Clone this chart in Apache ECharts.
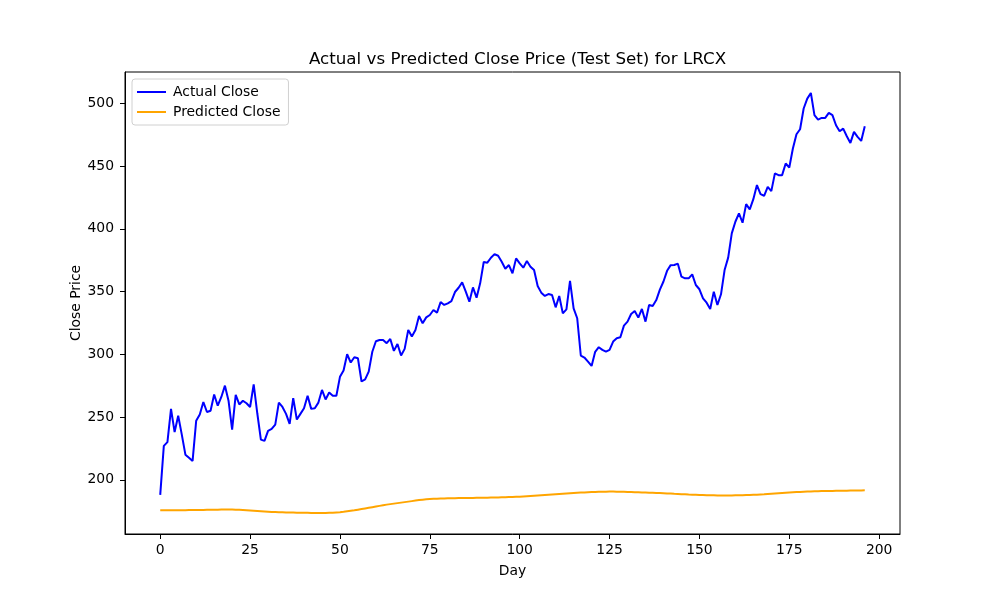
<!DOCTYPE html>
<html>
<head>
<meta charset="utf-8">
<script src="https://cdn.jsdelivr.net/npm/echarts@6/dist/echarts.min.js"></script>
<style>html,body{margin:0;padding:0;background:#fff}#c{width:1000px;height:600px}</style>
</head>
<body>
<div id="c"></div>
<script>
const actualClose = [188,227,230,256.5,238,251,236,220,217.5,215,
247,252,262,254,255,268,259,266,275,263,
240,267.6,260,263,261,258,276,253,232,231,
239,240.5,244,261.5,258,252.5,244.5,265,248,252.5,
257,267,256.5,257,261.5,271.6,264,269.5,267,267,
282,287,300,293.4,297.6,296.8,278.3,280,286.2,302,
310.4,311.4,311.4,308.8,312.2,302.7,308.2,299,304.3,319.4,
314.1,319.4,330.5,324.7,329.4,331.3,335.3,333.2,341.6,339.3,
340.6,342.4,349.6,353,357.3,349.9,341.9,353.3,345.1,356.5,
373.5,373,376.9,379.8,378.5,373.7,368.2,371.1,364.5,376.4,
372.4,369,374.3,369.8,367.1,354.4,349.1,346.5,348,347.2,
337.4,346.4,332.6,335.8,358.4,336.6,328.7,299,297.4,294.2,
290.7,302,305.6,303.5,302.1,303.5,310.1,312.8,313.5,322.8,
326,332.1,334.5,329.2,336.1,326,339.3,338.5,343.2,351.5,
358,366.5,371,371.1,372.2,361.8,360.5,360.5,363.7,355.2,
351.8,344.6,341.1,336.1,349.9,339.3,347.8,367.1,377,396.3,
405.6,412.2,404.8,419.6,415.4,423.6,434.8,427.6,426.3,433.4,
430,444.1,442.7,442.7,452,448.8,463.9,475.3,479.3,495.8,
503.7,508.2,490.5,487,488.3,488.3,492.3,490.5,482.5,477.7,
479.8,473.7,468.4,477.2,473.2,470,481.7];
const predictedClose = [175.8,175.8,175.8,175.8,175.8,175.8,175.8,175.8,175.9,175.9,
175.9,176.0,176.0,176.1,176.1,176.2,176.2,176.3,176.3,176.3,
176.3,176.2,176.1,176.0,175.8,175.6,175.4,175.2,175.0,174.8,
174.6,174.4,174.3,174.2,174.1,174.0,173.9,173.9,173.8,173.8,
173.7,173.7,173.6,173.6,173.6,173.6,173.6,173.7,173.8,174.0,
174.2,174.5,174.9,175.3,175.7,176.2,176.7,177.2,177.7,178.2,
178.7,179.2,179.7,180.2,180.6,181.0,181.4,181.8,182.2,182.6,
183.0,183.4,183.8,184.1,184.4,184.6,184.8,184.9,185.0,185.1,
185.2,185.3,185.3,185.4,185.4,185.5,185.5,185.5,185.6,185.6,
185.7,185.7,185.8,185.8,185.9,186.0,186.1,186.2,186.3,186.4,
186.5,186.7,186.9,187.1,187.3,187.5,187.7,187.9,188.1,188.3,
188.5,188.7,188.9,189.1,189.3,189.5,189.7,189.8,189.9,190.1,
190.2,190.3,190.4,190.5,190.5,190.6,190.6,190.5,190.5,190.4,
190.3,190.2,190.1,190.0,189.9,189.8,189.7,189.6,189.5,189.4,
189.3,189.1,189.0,188.8,188.7,188.5,188.4,188.2,188.1,188.0,
187.9,187.8,187.7,187.6,187.6,187.5,187.5,187.5,187.5,187.5,
187.6,187.6,187.7,187.8,187.9,188.0,188.1,188.3,188.4,188.6,
188.8,189.0,189.2,189.4,189.6,189.8,190.0,190.2,190.3,190.5,
190.6,190.7,190.8,190.9,191.0,191.0,191.1,191.1,191.2,191.2,
191.3,191.3,191.4,191.4,191.5,191.5,191.6];
const xTicks = [0,25,50,75,100,125,150,175,200];
const yTicks = [200,250,300,350,400,450,500];

const days = actualClose.map((_, i) => i);
const font = 'DejaVu Sans';
const chart = echarts.init(document.getElementById('c'), null, {renderer:'canvas'});
chart.setOption({
  animation: false,
  backgroundColor: '#fff',
  textStyle: {fontFamily: font},
  title: {
    text: 'Actual vs Predicted Close Price (Test Set) for LRCX',
    left: 512.5, top: 46, textAlign: 'center',
    textStyle: {fontFamily: font, fontSize: 16.7, fontWeight: 'normal', color: '#000'}
  },
  legend: {
    orient: 'vertical', left: 132, top: 79,
    backgroundColor: '#fff', borderColor: '#d0d0d0', borderWidth: 1, borderRadius: 3,
    padding: [6, 8, 6, 5], itemGap: 6, itemWidth: 29, itemHeight: 2,
    icon: 'rect',
    textStyle: {fontFamily: font, fontSize: 13.9, color: '#000', padding: [0,0,0,2]},
    data: ['Actual Close', 'Predicted Close']
  },
  grid: {left: 125, right: 100, top: 72, bottom: 66, show: true, borderColor: '#000', borderWidth: 1, containLabel: false},
  xAxis: {
    type: 'value', min: -9.8, max: 205.8,
    name: 'Day', nameLocation: 'middle', nameGap: 30, nameMoveOverlap: false,
    nameTextStyle: {fontFamily: font, fontSize: 13.9, color: '#000'},
    axisLine: {show: true, onZero: false, lineStyle: {color: '#000', width: 1}},
    axisTick: {show: true, length: 5, customValues: xTicks, lineStyle: {color: '#000'}},
    axisLabel: {customValues: xTicks, fontFamily: font, fontSize: 13.9, color: '#000', margin: 9},
    splitLine: {show: false}
  },
  yAxis: {
    type: 'value', min: 156.8, max: 524.9,
    name: 'Close Price', nameLocation: 'middle', nameGap: 42, nameMoveOverlap: false,
    nameTextStyle: {fontFamily: font, fontSize: 13.9, color: '#000'},
    axisLine: {show: true, onZero: false, lineStyle: {color: '#000', width: 1}},
    axisTick: {show: true, length: 5, customValues: yTicks, lineStyle: {color: '#000'}},
    axisLabel: {customValues: yTicks, fontFamily: font, fontSize: 13.9, color: '#000', margin: 11},
    splitLine: {show: false}
  },
  series: [
    {name: 'Actual Close', type: 'line', showSymbol: false, symbol: 'none',
     data: days.map(i => [i, actualClose[i]]),
     lineStyle: {color: '#0000ff', width: 2}, itemStyle: {color: '#0000ff'}},
    {name: 'Predicted Close', type: 'line', showSymbol: false, symbol: 'none',
     data: days.map(i => [i, predictedClose[i]]),
     lineStyle: {color: '#ffa500', width: 2}, itemStyle: {color: '#ffa500'}}
  ]
});
</script>
</body>
</html>
